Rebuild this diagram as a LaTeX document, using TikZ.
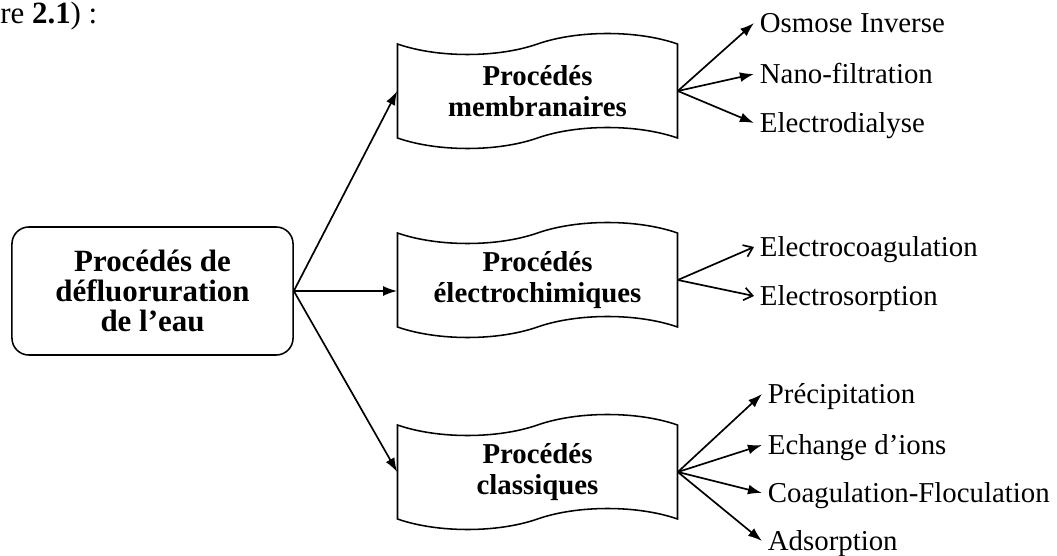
\documentclass[tikz,border=0pt]{standalone}
\usepackage{fontspec}
\setmainfont{Liberation Serif}
\usetikzlibrary{arrows.meta}

\begin{document}
\begin{tikzpicture}[x=0.025cm,y=-0.025cm,
 root/.style={draw,line width=1.1pt,rounded corners=12pt,minimum width=7.025cm,minimum height=3.2cm,align=center,font=\fontsize{22}{21.5}\selectfont\bfseries},
 tape/.style={minimum width=7cm,minimum height=2.35cm,align=center,font=\fontsize{20.5}{22.5}\selectfont\bfseries},
 leaf/.style={anchor=west,inner sep=4pt,text height=14pt,text depth=0pt,font=\fontsize{20.5}{22}\selectfont},
 arr/.style={line width=1.2pt,-{Latex[length=10pt,width=7pt]}},
 barb/.style={line width=1.2pt,-{Straight Barb[length=6pt,width=9pt]}}]
\useasboundingbox (0,0) rectangle (1057,556);
\node[anchor=base west,inner sep=0pt,font=\fontsize{22}{24}\selectfont] (fig) at (0,24) {re \textbf{2.1}) :};
\node[root] (root) at (152.5,291) {Procédés de\\défluoruration\\de l’eau};
\node[tape] (mem) at (537.5,91) {Procédés\\membranaires};
\node[tape] (ele) at (537.5,280) {Procédés\\électrochimiques};
\node[tape] (cla) at (537.5,472) {Procédés\\classiques};
\foreach \n in {mem,ele,cla}
 \draw[line width=1.1pt,shift={(\n.center)}] (-140,-47) .. controls (-100,-33) and (-40,-33) .. (0,-47)
  .. controls (40,-61) and (100,-61) .. (140,-47) -- (140,47) .. controls (100,33) and (40,33) .. (0,47)
  .. controls (-40,61) and (-100,61) .. (-140,47) -- cycle;
\draw[arr] (root.east) -- (mem.west);
\draw[arr] (root.east) -- (root.east -| ele.west);
\draw[arr] (root.east) -- (cla.west);
\node[leaf] (osm) at (754,23) {Osmose Inverse};
\node[leaf] (nan) at (754,74) {Nano-filtration};
\node[leaf] (eld) at (754,123) {Electrodialyse};
\node[leaf] (eco) at (754,247) {Electrocoagulation};
\node[leaf] (eso) at (754,296) {Electrosorption};
\node[leaf] (pre) at (762,394) {Précipitation};
\node[leaf] (ech) at (762,445) {Echange d’ions};
\node[leaf] (coa) at (762,493) {Coagulation-Floculation};
\node[leaf] (ads) at (762,541) {Adsorption};
\foreach \l in {osm,nan,eld} \draw[arr] (mem.east) -- (\l.west);
\foreach \l in {eco,eso} \draw[barb] (ele.east) -- (\l.west);
\foreach \l in {pre,ech,coa,ads} \draw[arr] (cla.east) -- (\l.west);
\end{tikzpicture}
\end{document}
